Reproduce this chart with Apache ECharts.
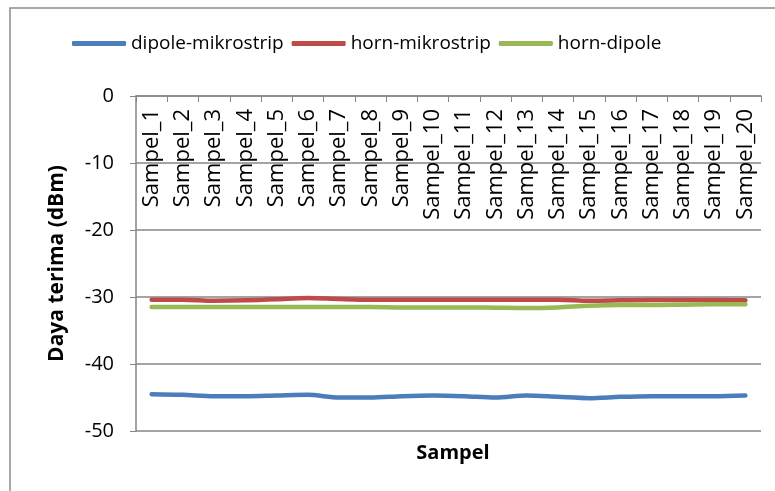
<!DOCTYPE html>
<html>
<head>
<meta charset="utf-8">
<script src="https://cdn.jsdelivr.net/npm/echarts@6/dist/echarts.min.js"></script>
<style>
  html, body { margin: 0; padding: 0; background: #fff; }
  #chart { width: 775px; height: 491px; }
</style>
</head>
<body>
<div id="chart"></div>
<script>
// Sample names on the category axis
const categories = [
  'Sampel_1', 'Sampel_2', 'Sampel_3', 'Sampel_4', 'Sampel_5',
  'Sampel_6', 'Sampel_7', 'Sampel_8', 'Sampel_9', 'Sampel_10',
  'Sampel_11', 'Sampel_12', 'Sampel_13', 'Sampel_14', 'Sampel_15',
  'Sampel_16', 'Sampel_17', 'Sampel_18', 'Sampel_19', 'Sampel_20'
];

// Received power (dBm) per antenna pair
const dipoleMikrostrip = [
  -44.5, -44.6, -44.8, -44.8, -44.7, -44.6, -45.0, -45.0, -44.8, -44.7,
  -44.8, -45.0, -44.7, -44.9, -45.1, -44.9, -44.8, -44.8, -44.8, -44.7
];
const hornMikrostrip = [
  -30.4, -30.4, -30.55, -30.5, -30.35, -30.15, -30.3, -30.4, -30.4, -30.4,
  -30.4, -30.4, -30.4, -30.4, -30.55, -30.5, -30.45, -30.45, -30.45, -30.5
];
const hornDipole = [
  -31.5, -31.5, -31.5, -31.5, -31.5, -31.5, -31.5, -31.5, -31.55, -31.55,
  -31.55, -31.6, -31.65, -31.55, -31.3, -31.2, -31.2, -31.15, -31.1, -31.1
];

// Value axis ticks
const yMin = -50;
const yMax = 0;
const yStep = 10;

const seriesNames = ['dipole-mikrostrip', 'horn-mikrostrip', 'horn-dipole'];
const seriesColors = ['#4A7EBB', '#BE4B48', '#98B954'];
const seriesData = [dipoleMikrostrip, hornMikrostrip, hornDipole];

const FONT = 'Open Sans';
const chart = echarts.init(document.getElementById('chart'), null, { renderer: 'canvas' });

chart.setOption({
  animation: false,
  backgroundColor: '#ffffff',
  textStyle: { fontFamily: FONT },
  graphic: [{
    type: 'rect',
    shape: { x: 10, y: 8, width: 790, height: 520 },
    style: { fill: 'none', stroke: '#8c8c8c', lineWidth: 1.5 },
    silent: true
  }],
  title: {
    text: 'Sampel',
    left: 448,
    top: 438,
    textAlign: 'center',
    textStyle: { fontFamily: FONT, fontWeight: 'bold', fontSize: 20, color: '#000' }
  },
  legend: {
    data: seriesNames,
    left: 67,
    top: 29,
    itemWidth: 54,
    itemHeight: 5,
    itemGap: 8,
    icon: 'roundRect',
    textStyle: { fontFamily: FONT, fontSize: 19, color: '#000' }
  },
  grid: { left: 136, right: 14, top: 96, bottom: 60 },
  xAxis: {
    type: 'category',
    position: 'top',
    data: categories,
    boundaryGap: true,
    axisLine: { show: true, lineStyle: { color: '#868686', width: 1.5 } },
    axisTick: { show: true, inside: true, length: 6, lineStyle: { color: '#868686' } },
    axisLabel: {
      inside: true,
      rotate: 90,
      margin: 13,
      interval: 0,
      fontFamily: FONT,
      fontSize: 22,
      color: '#000'
    },
    splitLine: { show: false }
  },
  yAxis: {
    type: 'value',
    min: yMin,
    max: yMax,
    interval: yStep,
    name: 'Daya terima (dBm)',
    nameLocation: 'middle',
    nameGap: 68,
    nameRotate: 90,
    nameTextStyle: { fontFamily: FONT, fontWeight: 'bold', fontSize: 21, color: '#000' },
    axisLine: { show: true, lineStyle: { color: '#868686', width: 1.5 } },
    axisTick: { show: true, length: 6, lineStyle: { color: '#868686' } },
    axisLabel: { margin: 22, fontFamily: FONT, fontSize: 20, color: '#000' },
    splitLine: { show: true, lineStyle: { color: '#868686', width: 1.5 } }
  },
  series: seriesNames.map((name, i) => ({
    name,
    type: 'line',
    data: seriesData[i],
    smooth: 0.3,
    showSymbol: false,
    symbol: 'none',
    color: seriesColors[i],
    lineStyle: { width: 4.5, color: seriesColors[i], cap: 'round' }
  }))
});
</script>
</body>
</html>
